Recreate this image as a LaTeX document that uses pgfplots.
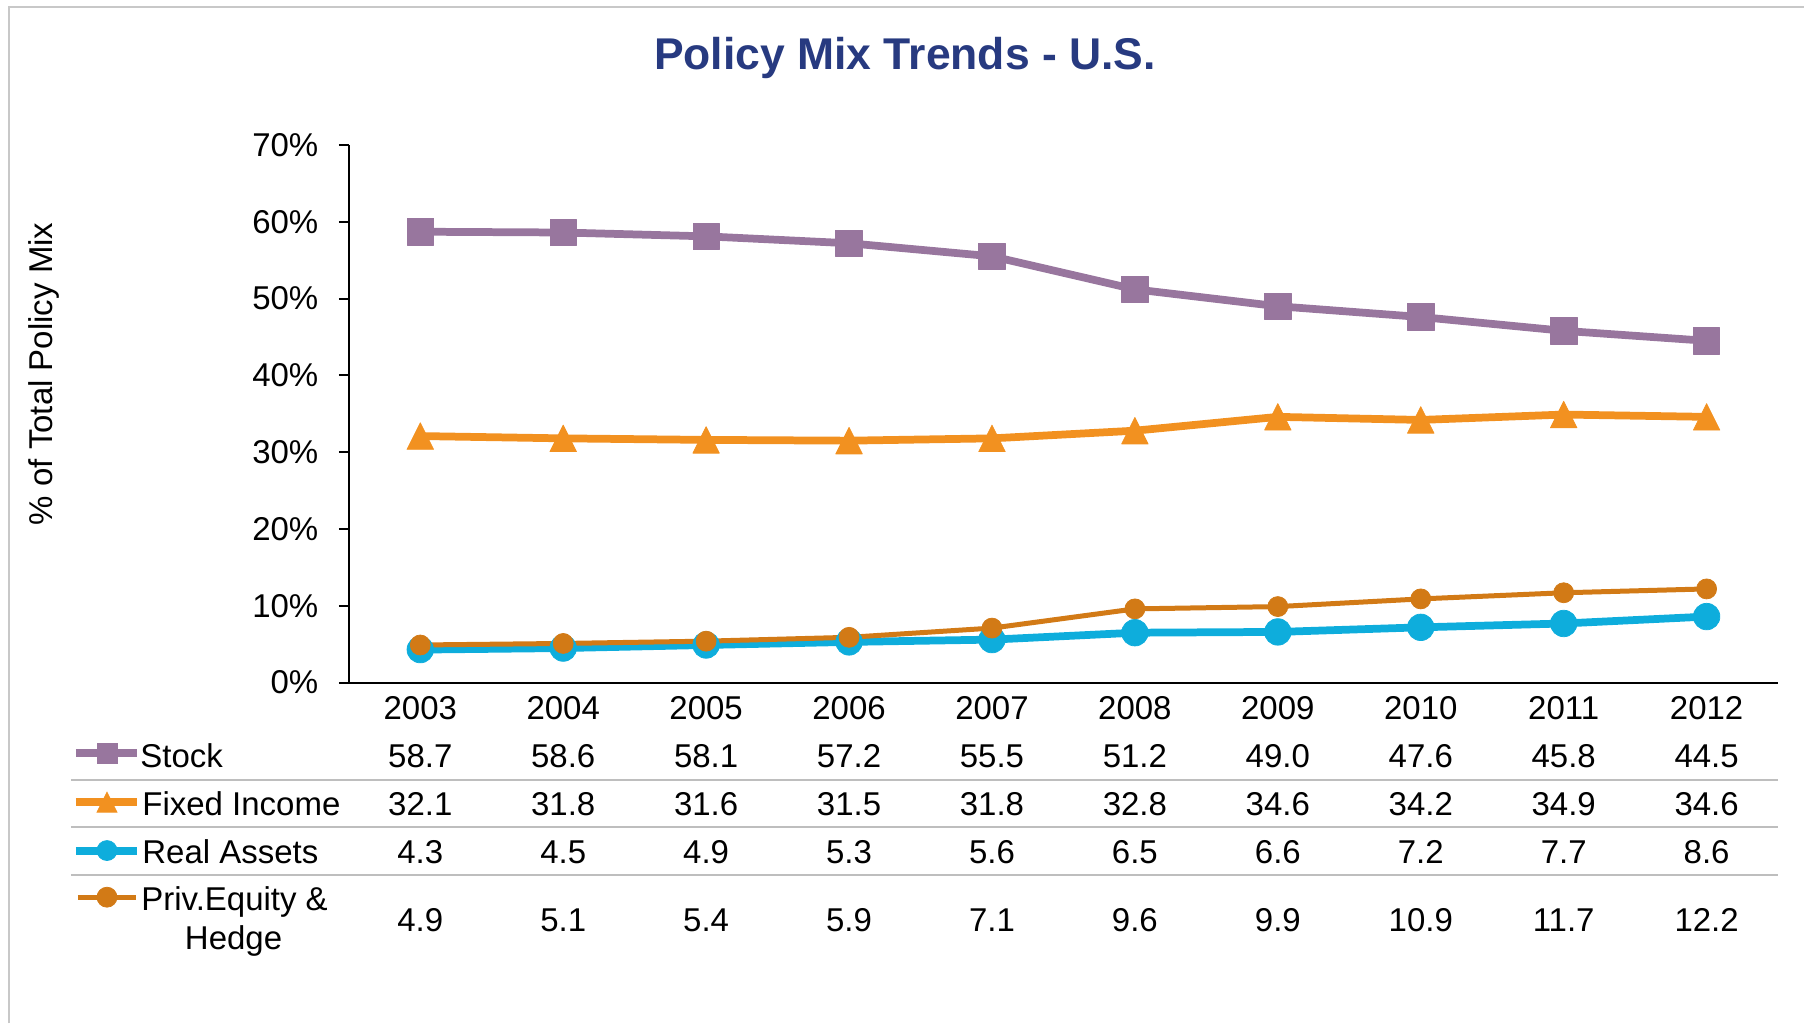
\documentclass[border=0pt]{standalone}
\usepackage{pgfplots}
\pgfplotsset{compat=1.18}
\usepackage{pgfplotstable}
\usepackage{fontspec}
\setmainfont{Liberation Sans}

\definecolor{stockc}{RGB}{152,118,158}
\definecolor{fixedc}{RGB}{242,145,32}
\definecolor{realc}{RGB}{14,173,220}
\definecolor{privc}{RGB}{210,122,22}
\definecolor{titlec}{RGB}{39,58,128}
\definecolor{sepc}{RGB}{190,190,190}
\definecolor{framec}{RGB}{200,200,200}

\newcommand\f{\fontsize{13.2}{15.8}\selectfont}

% triangle as wide as it is tall, centred on the point (Excel style)
\pgfdeclareplotmark{tri}{%
  \pgfpathmoveto{\pgfqpoint{0pt}{\pgfplotmarksize}}%
  \pgfpathlineto{\pgfqpoint{-\pgfplotmarksize}{-\pgfplotmarksize}}%
  \pgfpathlineto{\pgfqpoint{\pgfplotmarksize}{-\pgfplotmarksize}}%
  \pgfpathclose
  \pgfusepathqfillstroke}

% policy mix, % of total, U.S.
\pgfplotstableread{
year stock fixed real priv
2003 58.7 32.1 4.3 4.9
2004 58.6 31.8 4.5 5.1
2005 58.1 31.6 4.9 5.4
2006 57.2 31.5 5.3 5.9
2007 55.5 31.8 5.6 7.1
2008 51.2 32.8 6.5 9.6
2009 49.0 34.6 6.6 9.9
2010 47.6 34.2 7.2 10.9
2011 45.8 34.9 7.7 11.7
2012 44.5 34.6 8.6 12.2
}\mixdata

\begin{document}
\begin{tikzpicture}
% page frame, title, y label, data table text (pixel units)
\begin{scope}[x=0.4pt, y=-0.4pt]
  \path (0,0) rectangle (1805,1024);
  \draw[framec, line width=0.8pt] (9,1024) -- (9,7) -- (1805,7);
  \node[anchor=base, inner sep=0pt, text=titlec,
        font=\fontsize{17.8}{21}\selectfont\bfseries] at (905.5,70) {Policy Mix Trends - U.S.};
  \node[rotate=90, inner sep=0pt, font=\f] at (44,374) {\% of Total Policy Mix};
  \draw[sepc, line width=0.55pt] (71,780.5) -- (1779,780.5);
  \draw[sepc, line width=0.55pt] (71,827.5) -- (1779,827.5);
  \draw[sepc, line width=0.55pt] (71,875.5) -- (1779,875.5);
  \node[anchor=base west, inner sep=0pt, font=\f] at (140,768) {Stock};
  \node[anchor=base west, inner sep=0pt, font=\f] at (142,816) {Fixed Income};
  \node[anchor=base west, inner sep=0pt, font=\f] at (142,864) {Real Assets};
  \node[anchor=base west, inner sep=0pt, font=\f] at (141,911) {Priv.Equity \&};
  \node[anchor=base, inner sep=0pt, font=\f] at (233.7,950) {Hedge};
\end{scope}

\begin{axis}[
    at={(139.6pt,-273.2pt)}, anchor=south west,
    scale only axis,
    width=572pt, height=215.2pt,
    xmin=-0.5, xmax=9.5,
    ymin=0, ymax=70,
    clip=false,
    separate axis lines,
    axis x line*=bottom, axis y line*=left,
    axis line style={black, line width=0.8pt},
    xtick={0,...,9},
    xticklabels={2003,2004,2005,2006,2007,2008,2009,2010,2011,2012},
    xtick style={draw=none},
    xticklabel style={font=\f, anchor=base, inner sep=0pt, yshift=-10.8pt},
    ytick={0,10,...,70},
    yticklabels={0\%,10\%,20\%,30\%,40\%,50\%,60\%,70\%},
    ytick style={black, line width=0.8pt},
    tick align=outside, major tick length=4pt,
    yticklabel style={font=\f, anchor=east, inner sep=0pt, xshift=-8pt},
    every node near coord/.append style={font=\f, text=black, inner sep=0pt, anchor=base},
    nodes near coords align=center,
]
\addplot[stockc, line width=3.1pt, mark=square*, mark size=5.3pt, line join=round,
  mark options={line width=0.3pt}]
  table[x expr=\coordindex, y=stock] {\mixdata};
\addplot[fixedc, line width=3.1pt, mark=tri, mark size=5.3pt, line join=round,
  mark options={line width=0.3pt}]
  table[x expr=\coordindex, y=fixed] {\mixdata};
\addplot[realc, line width=3.1pt, mark=*, mark size=5.3pt, line join=round,
  mark options={line width=0.3pt}]
  table[x expr=\coordindex, y=real] {\mixdata};
\addplot[privc, line width=2pt, mark=*, mark size=4pt, line join=round,
  mark options={line width=0.3pt}]
  table[x expr=\coordindex, y=priv] {\mixdata};

% table rows below the axis
\addplot[draw=none, mark=none, nodes near coords, point meta=explicit symbolic, forget plot,
  every node near coord/.append style={anchor=base}]
  table[x expr=\coordindex, y expr=-11.06, meta=stock] {\mixdata};
\addplot[draw=none, mark=none, nodes near coords, point meta=explicit symbolic, forget plot,
  every node near coord/.append style={anchor=base}]
  table[x expr=\coordindex, y expr=-17.30, meta=fixed] {\mixdata};
\addplot[draw=none, mark=none, nodes near coords, point meta=explicit symbolic, forget plot,
  every node near coord/.append style={anchor=base}]
  table[x expr=\coordindex, y expr=-23.55, meta=real] {\mixdata};
\addplot[draw=none, mark=none, nodes near coords, point meta=explicit symbolic, forget plot,
  every node near coord/.append style={anchor=base}]
  table[x expr=\coordindex, y expr=-32.40, meta=priv] {\mixdata};

% legend keys in the table
\addplot[stockc, line width=3.2pt, mark=square*, mark size=4pt, mark indices={2}, forget plot,
  mark options={line width=0.3pt}]
  coordinates {(-2.409,-9.147) (-2.192,-9.147) (-1.983,-9.147)};
\addplot[fixedc, line width=3.2pt, mark=tri, mark size=4pt, mark indices={2}, forget plot,
  mark options={line width=0.3pt}]
  coordinates {(-2.409,-15.57) (-2.192,-15.57) (-1.983,-15.57)};
\addplot[realc, line width=3.2pt, mark=*, mark size=4pt, mark indices={2}, forget plot,
  mark options={line width=0.3pt}]
  coordinates {(-2.409,-21.86) (-2.192,-21.86) (-1.983,-21.86)};
\addplot[privc, line width=1.9pt, mark=*, mark size=4pt, mark indices={2}, forget plot,
  mark options={line width=0.3pt}]
  coordinates {(-2.395,-27.93) (-2.192,-27.93) (-1.990,-27.93)};
\end{axis}
\end{tikzpicture}
\end{document}
